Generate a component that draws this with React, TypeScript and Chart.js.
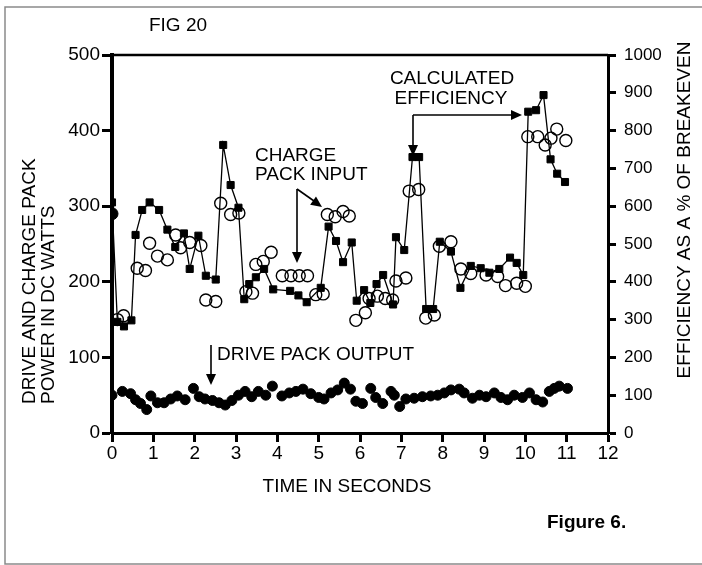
import React, { useEffect, useRef } from 'react';
import { Chart, registerables } from 'chart.js';

Chart.register(...registerables);

// Calculated efficiency (% of breakeven, right axis) - filled squares with line
const effTime = [0.0, 0.13, 0.29, 0.47, 0.57, 0.73, 0.91, 1.14, 1.34, 1.53, 1.74, 1.88, 2.09, 2.27, 2.51, 2.69, 2.87, 3.06, 3.2, 3.32, 3.48, 3.68, 3.9, 4.31, 4.51, 4.71, 5.05, 5.24, 5.42, 5.59, 5.8, 5.92, 6.1, 6.25, 6.4, 6.56, 6.8, 6.87, 7.07, 7.27, 7.43, 7.6, 7.77, 7.93, 8.2, 8.43, 8.68, 8.92, 9.13, 9.37, 9.63, 9.79, 9.95, 10.07, 10.26, 10.44, 10.61, 10.77, 10.96];
const effPct = [610, 294, 282, 298, 524, 590, 610, 590, 538, 492, 528, 434, 522, 416, 406, 762, 656, 596, 354, 394, 412, 434, 380, 376, 364, 346, 384, 546, 508, 452, 504, 350, 378, 344, 394, 418, 340, 518, 484, 730, 730, 328, 328, 506, 480, 384, 442, 436, 424, 434, 464, 450, 418, 850, 854, 894, 724, 686, 664];

// Charge pack input (DC watts, left axis) - open circles
const chargeTime = [0.13, 0.28, 0.61, 0.81, 0.91, 1.1, 1.34, 1.54, 1.66, 1.88, 2.15, 2.27, 2.51, 2.63, 2.87, 3.07, 3.24, 3.4, 3.48, 3.66, 3.85, 4.12, 4.33, 4.53, 4.73, 4.93, 5.11, 5.21, 5.4, 5.59, 5.74, 5.9, 6.13, 6.22, 6.42, 6.61, 6.79, 6.87, 7.11, 7.19, 7.42, 7.59, 7.8, 7.92, 8.2, 8.44, 8.68, 9.05, 9.33, 9.52, 9.79, 10.0, 10.06, 10.3, 10.48, 10.62, 10.76, 10.98];
const chargeWatts = [150, 155, 218, 215, 251, 234, 229, 262, 245, 252, 248, 176, 174, 304, 289, 291, 187, 185, 223, 227, 239, 208, 208, 208, 208, 183, 184, 289, 286, 293, 287, 149, 159, 178, 181, 178, 176, 201, 205, 320, 322, 152, 156, 247, 253, 217, 211, 209, 207, 195, 198, 194, 392, 392, 381, 390, 402, 387];

// Drive pack output (DC watts, left axis) - filled circles
const driveTime = [0, 0.25, 0.45, 0.57, 0.69, 0.84, 0.94, 1.1, 1.26, 1.42, 1.58, 1.77, 1.97, 2.11, 2.25, 2.43, 2.59, 2.74, 2.9, 3.06, 3.22, 3.38, 3.54, 3.72, 3.88, 4.11, 4.29, 4.45, 4.62, 4.81, 5.0, 5.13, 5.3, 5.46, 5.62, 5.77, 5.9, 6.06, 6.26, 6.38, 6.55, 6.75, 6.83, 6.96, 7.11, 7.31, 7.51, 7.71, 7.88, 8.04, 8.2, 8.4, 8.52, 8.72, 8.89, 9.05, 9.25, 9.41, 9.57, 9.73, 9.93, 10.1, 10.26, 10.42, 10.58, 10.7, 10.82, 11.02];
const driveWatts = [50, 55, 52, 44, 39, 31, 49, 40, 40, 45, 49, 44, 59, 48, 45, 43, 40, 37, 43, 50, 55, 48, 55, 50, 62, 49, 53, 55, 58, 52, 47, 45, 53, 57, 66, 58, 42, 39, 59, 47, 39, 55, 50, 35, 45, 46, 48, 49, 50, 53, 57, 58, 53, 46, 50, 48, 53, 47, 44, 50, 47, 53, 44, 41, 55, 59, 62, 59];

// Start marker at t = 0
const startTime = [0];
const startWatts = [290];

const xTicks = [0, 12, 1];
const leftTicks = [0, 500, 100];
const rightTicks = [0, 1000, 100];

const FONT = '"Liberation Sans", Arial, Helvetica, sans-serif';

const zip = (xs: number[], ys: number[]) => xs.map((x, i) => ({ x, y: ys[i] }));

function arrowHead(ctx: CanvasRenderingContext2D, tipX: number, tipY: number, fromX: number, fromY: number) {
  const ang = Math.atan2(tipY - fromY, tipX - fromX);
  const len = 11;
  const half = 5;
  ctx.beginPath();
  ctx.moveTo(tipX, tipY);
  ctx.lineTo(tipX - len * Math.cos(ang) + half * Math.sin(ang), tipY - len * Math.sin(ang) - half * Math.cos(ang));
  ctx.lineTo(tipX - len * Math.cos(ang) - half * Math.sin(ang), tipY - len * Math.sin(ang) + half * Math.cos(ang));
  ctx.closePath();
  ctx.fill();
}

function line(ctx: CanvasRenderingContext2D, x1: number, y1: number, x2: number, y2: number) {
  ctx.beginPath();
  ctx.moveTo(x1, y1);
  ctx.lineTo(x2, y2);
  ctx.stroke();
}

const decoPlugin = {
  id: 'deco',
  afterDraw(chart: any) {
    const ctx: CanvasRenderingContext2D = chart.ctx;
    const { left, right, top } = chart.chartArea;
    ctx.save();
    // outer frame
    ctx.strokeStyle = '#8a8a8a';
    ctx.lineWidth = 1.5;
    ctx.beginPath();
    ctx.moveTo(702, 7);
    ctx.lineTo(5, 7);
    ctx.lineTo(5, 564);
    ctx.lineTo(702, 564);
    ctx.stroke();

    // top frame of plot
    ctx.strokeStyle = '#000';
    ctx.lineWidth = 2.5;
    line(ctx, left, top, right, top);

    ctx.fillStyle = '#000';
    ctx.textBaseline = 'middle';
    ctx.font = `19px ${FONT}`;
    ctx.textAlign = 'center';
    ctx.fillText('FIG 20', 178, 26);
    ctx.fillText('CALCULATED', 452, 79);
    ctx.fillText('EFFICIENCY', 451, 99);
    ctx.fillText('TIME IN SECONDS', 347, 487);
    ctx.textAlign = 'left';
    ctx.fillText('CHARGE', 255, 156);
    ctx.fillText('PACK INPUT', 255, 175);
    ctx.fillText('DRIVE PACK OUTPUT', 217, 355);

    ctx.font = `bold 19px ${FONT}`;
    ctx.fillText('Figure 6.', 547, 523);

    // arrows
    ctx.strokeStyle = '#000';
    ctx.lineWidth = 1.6;
    line(ctx, 413, 115, 513, 115);
    arrowHead(ctx, 522, 115, 413, 115);
    line(ctx, 413, 115, 413, 147);
    arrowHead(ctx, 413, 156, 413, 115);
    line(ctx, 297, 189, 297, 254);
    arrowHead(ctx, 297, 263, 297, 189);
    line(ctx, 297, 189, 314, 201);
    arrowHead(ctx, 322, 207, 297, 189);
    line(ctx, 211, 345, 211, 376);
    arrowHead(ctx, 211, 385, 211, 345);

    // axis titles
    ctx.font = `19px ${FONT}`;
    ctx.save();
    ctx.translate(30, 404);
    ctx.rotate(-Math.PI / 2);
    ctx.textAlign = 'left';
    ctx.fillText('DRIVE AND CHARGE PACK', 0, 0);
    ctx.fillText('POWER IN DC WATTS', 0, 19);
    ctx.restore();

    ctx.save();
    ctx.translate(685, 210);
    ctx.rotate(-Math.PI / 2);
    ctx.textAlign = 'center';
    ctx.fillText('EFFICIENCY AS A % OF BREAKEVEN', 0, 0);
    ctx.restore();

    ctx.restore();
  },
};

export default function App() {
  const ref = useRef<HTMLCanvasElement>(null);
  useEffect(() => {
    if (!ref.current) return;
    const chart = new Chart(ref.current, {
      type: 'scatter',
      data: {
        datasets: [
          {
            label: 'Calculated efficiency',
            data: zip(effTime, effPct),
            yAxisID: 'y1',
            showLine: true,
            borderColor: '#000',
            borderWidth: 1.3,
            backgroundColor: '#000',
            pointStyle: 'rect',
            pointRadius: 5,
            pointBorderWidth: 1,
            pointBackgroundColor: '#000',
            pointBorderColor: '#000',
            tension: 0,
          },
          {
            label: 'Charge pack input',
            data: zip(chargeTime, chargeWatts),
            yAxisID: 'y',
            showLine: false,
            pointStyle: 'circle',
            pointRadius: 6,
            pointBorderWidth: 1.4,
            pointBorderColor: '#000',
            pointBackgroundColor: 'rgba(0,0,0,0)',
          },
          {
            label: 'Drive pack output',
            data: zip(driveTime, driveWatts),
            yAxisID: 'y',
            showLine: false,
            pointStyle: 'circle',
            pointRadius: 5,
            pointBorderWidth: 1,
            pointBorderColor: '#000',
            pointBackgroundColor: '#000',
          },
          {
            label: 'Start',
            data: zip(startTime, startWatts),
            yAxisID: 'y',
            showLine: false,
            pointStyle: 'circle',
            pointRadius: 6,
            pointBorderWidth: 1,
            pointBorderColor: '#000',
            pointBackgroundColor: '#000',
          },
        ],
      },
      options: {
        animation: false,
        responsive: true,
        maintainAspectRatio: false,
        layout: { padding: { top: 55, left: 0, right: 0, bottom: 0 } },
        plugins: { legend: { display: false }, title: { display: false }, tooltip: { enabled: false } },
        elements: { point: { hoverRadius: 0 } },
        scales: {
          x: {
            type: 'linear',
            position: 'bottom',
            min: xTicks[0],
            max: xTicks[1],
            ticks: { stepSize: xTicks[2], color: '#000', font: { family: FONT, size: 19 }, padding: 0, maxRotation: 0, autoSkip: false, callback: (v: any) => String(v) },
            grid: { drawOnChartArea: false, drawTicks: true, tickLength: 9, tickWidth: 3, tickColor: '#000' },
            border: { display: true, color: '#000', width: 3 },
            afterFit: (s: any) => { s.height = 132; },
          },
          y: {
            type: 'linear',
            position: 'left',
            min: leftTicks[0],
            max: leftTicks[1],
            ticks: { stepSize: leftTicks[2], color: '#000', font: { family: FONT, size: 19 }, padding: 2, callback: (v: any) => String(v) },
            grid: { drawOnChartArea: false, drawTicks: true, tickLength: 10, tickWidth: 3, tickColor: '#000' },
            border: { display: true, color: '#000', width: 4 },
            afterFit: (s: any) => { s.width = 112; },
          },
          y1: {
            type: 'linear',
            position: 'right',
            min: rightTicks[0],
            max: rightTicks[1],
            ticks: { stepSize: rightTicks[2], color: '#000', font: { family: FONT, size: 17 }, padding: 8, callback: (v: any) => String(v) },
            grid: { drawOnChartArea: false, drawTicks: true, tickLength: 8, tickWidth: 3, tickColor: '#000' },
            border: { display: true, color: '#000', width: 3 },
            afterFit: (s: any) => { s.width = 94; },
          },
        },
      },
      plugins: [decoPlugin],
    });
    return () => chart.destroy();
  }, []);
  return (
    <div style={{ position: 'fixed', left: 0, top: 0, width: 702, height: 565, background: '#fff' }}>
      <canvas ref={ref} />
    </div>
  );
}
